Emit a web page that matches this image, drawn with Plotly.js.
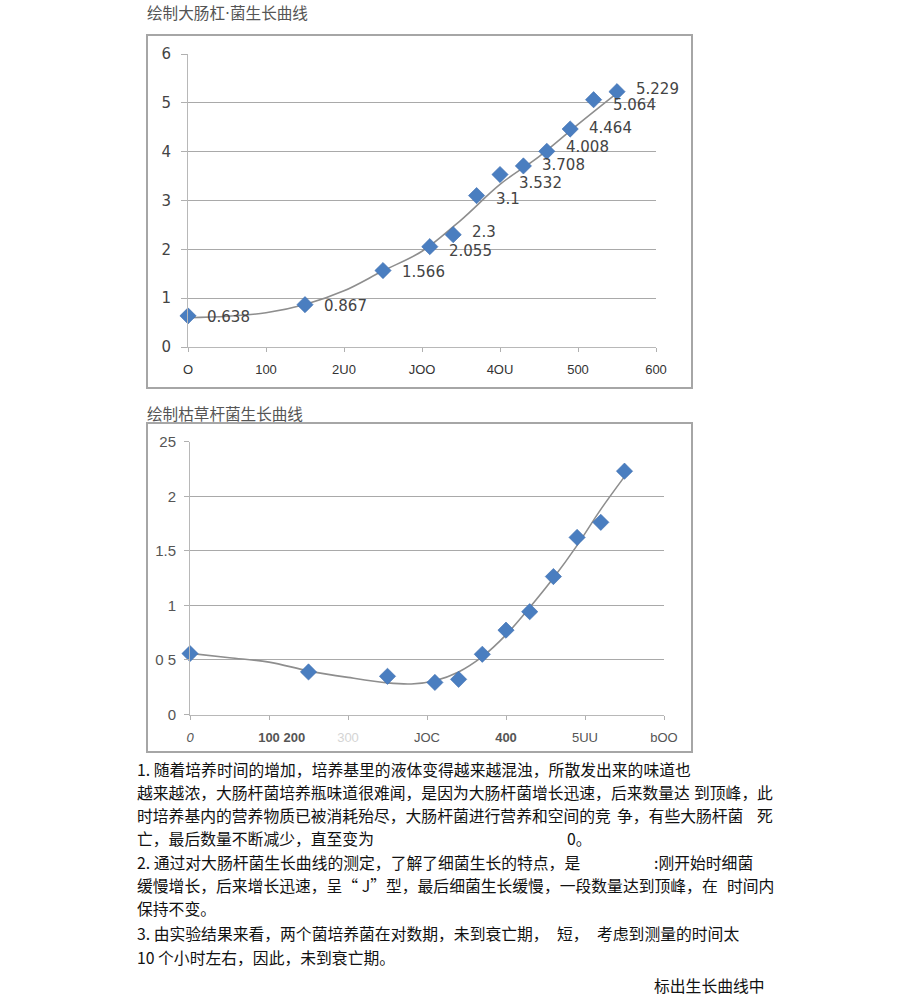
<!DOCTYPE html>
<html>
<head>
<meta charset="utf-8">
<script src="https://cdn.plot.ly/plotly-3.0.1.min.js"></script>
<style>
  html, body { margin: 0; padding: 0; background: #ffffff; }
  #chart { width: 920px; height: 997px; }
</style>
</head>
<body>
<div id="chart"></div>
<script>
// ---------- Data: chart 1 (大肠杆菌) ----------
const ecoliTime = [0, 150, 250, 310, 340, 370, 400, 430, 460, 490, 520, 550];
const ecoliOD = [0.638, 0.867, 1.566, 2.055, 2.3, 3.1, 3.532, 3.708, 4.008, 4.464, 5.064, 5.229];
const ecoliLabels = ["0.638", "0.867", "1.566", "2.055", "2.3", "3.1", "3.532", "3.708", "4.008", "4.464", "5.064", "5.229"];
// trend line
const ecoliTrendX = [0, 50, 100, 150, 200, 250, 300, 350, 400, 450, 500, 550];
const ecoliTrendY = [0.60, 0.63, 0.70, 0.87, 1.15, 1.56, 1.96, 2.60, 3.33, 3.90, 4.56, 5.20];
const ecoliYTicks = [0, 1, 2, 3, 4, 5, 6];
const ecoliXTicks = [0, 100, 200, 300, 400, 500, 600];
const ecoliXTickText = ["O", "100", "2U0", "JOO", "4OU", "500", "600"];

// ---------- Data: chart 2 (枯草杆菌) ----------
const bsubTime = [0, 150, 250, 310, 340, 370, 400, 430, 460, 490, 520, 550];
const bsubOD = [0.558, 0.39, 0.35, 0.294, 0.322, 0.552, 0.773, 0.942, 1.264, 1.623, 1.761, 2.23];
const bsubTrendX = [0, 50, 100, 150, 200, 250, 280, 310, 340, 370, 400, 430, 460, 490, 520, 550];
const bsubTrendY = [0.56, 0.52, 0.48, 0.40, 0.34, 0.29, 0.28, 0.31, 0.39, 0.53, 0.73, 0.98, 1.25, 1.55, 1.88, 2.18];
const bsubYTicks = [0, 0.5, 1, 1.5, 2, 2.5];
const bsubYTickText = ["0", "0 5", "1", "1.5", "2", "25"];
const bsubXTicks = [0, 100, 200, 300, 400, 500, 600];
const bsubXTickText = ["<i>0</i>", "\u00a0\u00a0\u00a0\u00a0\u00a0\u00a0\u00a0<b>100 200</b>", "<span style=\"color:#d4d4d4\">300</span>", "JOC", "<b>400</b>", "5UU", "bOO"];

// ---------- Text ----------
const chart1Title = "绘制大肠杠<span style=\"font-family:DejaVu Sans\">·</span>菌生长曲线";
const chart2Title = "绘制枯草杆菌生长曲线";
const bodyLines = [
  [135, 769, "1. 随着培养时间的增加，培养基里的液体变得越来越混浊，所散发出来的味道也"],
  [135, 792, "越来越浓，大肠杆菌培养瓶味道很难闻，是因为大肠杆菌增长迅速，后来数量达"],
  [692, 792, "到顶峰，"],
  [755, 792, "此"],
  [135, 815, "时培养基内的营养物质已被消耗殆尽，大肠杆菌进行营养和空间的竞"],
  [615, 815, "争，有些大肠杆菌"],
  [755, 815, "死"],
  [135, 838, "亡，最后数量不断减少，直至变为"],
  [565, 838, "0。"],
  [135, 862, "2. 通过对大肠杆菌生长曲线的测定，了解了细菌生长的特点，是"],
  [652, 862, ":刚开始时细菌"],
  [135, 885, "缓慢增长，后来增长迅速，呈“ J”型，最后细菌生长缓慢，一段数量达到顶峰，在"],
  [725, 885, "时间内"],
  [135, 908, "保持不变。"],
  [135, 933, "3. 由实验结果来看，两个菌培养菌在对数期，未到衰亡期，"],
  [555, 933, "短，"],
  [595, 933, "考虑到测量的时间太"],
  [135, 957, "10 个小时左右，因此，未到衰亡期。"],
  [652, 985, "标出生长曲线中"]
];

// ---------- Layout helpers (pixel -> paper) ----------
const W = 920, H = 997;
const px = x => x / W;
const py = y => 1 - y / H;

const markerStyle = { symbol: "diamond", size: 12.5, color: "#4a7ec0", line: { color: "#3b6cae", width: 0.6 } };
const trendStyle = { color: "#8e8e8e", width: 1.6, shape: "spline", smoothing: 1.0 };

const traces = [
  { x: ecoliTrendX, y: ecoliTrendY, xaxis: "x", yaxis: "y", mode: "lines", line: trendStyle, hoverinfo: "skip", showlegend: false, cliponaxis: false },
  { x: ecoliTime, y: ecoliOD, xaxis: "x", yaxis: "y", mode: "markers", marker: markerStyle, showlegend: false, cliponaxis: false },
  { x: bsubTrendX, y: bsubTrendY, xaxis: "x2", yaxis: "y2", mode: "lines", line: trendStyle, hoverinfo: "skip", showlegend: false, cliponaxis: false },
  { x: bsubTime, y: bsubOD, xaxis: "x2", yaxis: "y2", mode: "markers", marker: markerStyle, showlegend: false, cliponaxis: false }
];

// small vertical nudges (px) so that crowded labels do not collide
const labelNudge = { "2.3": 4, "2.055": -3, "3.1": -2, "3.532": -7, "3.708": 2, "4.008": 5, "4.464": 2, "5.229": 4, "5.064": -4 };

const annotations = [];
// data labels (chart 1)
ecoliTime.forEach((t, i) => {
  const lab = ecoliLabels[i];
  annotations.push({
    x: t, y: ecoliOD[i], xref: "x", yref: "y", text: lab,
    showarrow: false, xanchor: "left", yanchor: "middle", xshift: 17, yshift: -1 + (labelNudge[lab] || 0),
    font: { family: "DejaVu Sans", size: 15, color: "#444444" }
  });
});
// chart titles
annotations.push({ x: px(145), y: py(12), xref: "paper", yref: "paper", text: chart1Title, showarrow: false,
  xanchor: "left", yanchor: "middle", font: { family: "Noto Sans CJK SC", size: 15.6, color: "#555555" } });
annotations.push({ x: px(145), y: py(413), xref: "paper", yref: "paper", text: chart2Title, showarrow: false,
  xanchor: "left", yanchor: "middle", font: { family: "Noto Sans CJK SC", size: 15.6, color: "#555555" } });
// body text
bodyLines.forEach(([x, y, t]) => {
  annotations.push({ x: px(x), y: py(y), xref: "paper", yref: "paper", text: t, showarrow: false,
    xanchor: "left", yanchor: "middle", font: { family: "Noto Sans CJK SC", size: 15.8, color: "#111111" } });
});

const frame = { type: "rect", xref: "paper", yref: "paper", line: { color: "#a6a6a6", width: 2 }, fillcolor: "rgba(0,0,0,0)", layer: "below" };
const shapes = [
  Object.assign({}, frame, { x0: px(147), x1: px(692), y0: py(388), y1: py(35) }),
  Object.assign({}, frame, { x0: px(147), x1: px(692), y0: py(752), y1: py(423) })
];

const axisCommon = {
  showline: true, linecolor: "#b8b8b8", linewidth: 1, zeroline: false,
  ticks: "outside", tickcolor: "#b0b0b0", tickwidth: 1, fixedrange: true
};

const layout = {
  width: W, height: H,
  margin: { l: 0, r: 0, t: 0, b: 0, pad: 0 },
  paper_bgcolor: "#ffffff", plot_bgcolor: "#ffffff",
  showlegend: false,
  xaxis: Object.assign({}, axisCommon, {
    domain: [px(188), px(656)], range: [0, 600], anchor: "y",
    tickmode: "array", tickvals: ecoliXTicks, ticktext: ecoliXTickText,
    ticklen: 4, showgrid: false, ticklabelstandoff: 6,
    tickfont: { family: "Liberation Sans", size: 13, color: "#333333" }
  }),
  yaxis: Object.assign({}, axisCommon, {
    domain: [py(347), py(54)], range: [0, 6], anchor: "x",
    tickmode: "array", tickvals: ecoliYTicks, ticklen: 6,
    showgrid: true, gridcolor: "#a9a9a9", gridwidth: 1, ticklabelstandoff: 7,
    tickfont: { family: "DejaVu Sans", size: 15, color: "#444444" }
  }),
  xaxis2: Object.assign({}, axisCommon, {
    domain: [px(190), px(664)], range: [0, 600], anchor: "y2",
    tickmode: "array", tickvals: bsubXTicks, ticktext: bsubXTickText,
    ticklen: 4, showgrid: false, ticklabelstandoff: 7,
    tickfont: { family: "Liberation Sans", size: 13, color: "#555555" }
  }),
  yaxis2: Object.assign({}, axisCommon, {
    domain: [py(714.5), py(441.7)], range: [0, 2.5], anchor: "x2",
    tickmode: "array", tickvals: bsubYTicks, ticktext: bsubYTickText, ticklen: 5,
    showgrid: true, gridcolor: "#a9a9a9", gridwidth: 1, ticklabelstandoff: 5,
    tickfont: { family: "Liberation Sans", size: 15, color: "#555555" }
  }),
  annotations: annotations,
  shapes: shapes
};

Plotly.newPlot("chart", traces, layout, { staticPlot: true, displayModeBar: false });
</script>
</body>
</html>
